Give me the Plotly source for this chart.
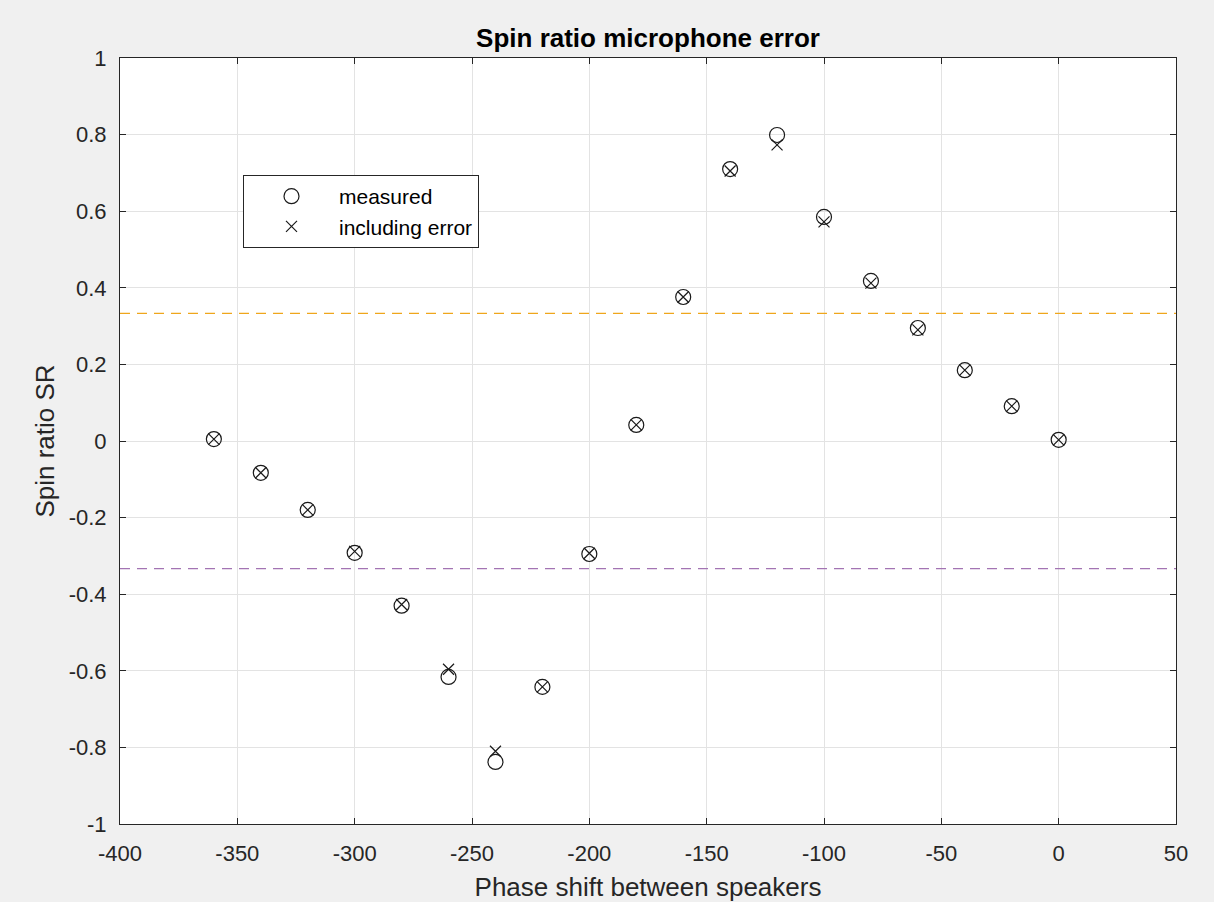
import plotly.graph_objects as go

phase = [-360, -340, -320, -300, -280, -260, -240, -220, -200, -180, -160,
         -140, -120, -100, -80, -60, -40, -20, 0]
measured = [0.005, -0.083, -0.180, -0.292, -0.430, -0.616, -0.838, -0.642, -0.295,
            0.042, 0.376, 0.710, 0.799, 0.585, 0.418, 0.295, 0.185, 0.091, 0.003]
including_error = [0.005, -0.083, -0.180, -0.288, -0.427, -0.596, -0.810, -0.642, -0.293,
                   0.042, 0.376, 0.705, 0.773, 0.572, 0.412, 0.290, 0.185, 0.091, 0.003]
upper_limit = 1 / 3
lower_limit = -1 / 3
x_range = [-400, 50]
y_range = [-1, 1]
x_tickvals = [-400, -350, -300, -250, -200, -150, -100, -50, 0, 50]
x_ticktext = ["-400", "-350", "-300", "-250", "-200", "-150", "-100", "-50", "0", "50"]
y_tickvals = [-1, -0.8, -0.6, -0.4, -0.2, 0, 0.2, 0.4, 0.6, 0.8, 1]
y_ticktext = ["-1", "-0.8", "-0.6", "-0.4", "-0.2", "0", "0.2", "0.4", "0.6", "0.8", "1"]

font = "Liberation Sans, Arial, sans-serif"
txt = "#262626"

fig = go.Figure()
fig.add_trace(go.Scatter(
    x=phase, y=measured, mode="markers", name="measured",
    marker=dict(symbol="circle-open", size=15, color="#1a1a1a", line=dict(width=1.2))))
fig.add_trace(go.Scatter(
    x=phase, y=including_error, mode="markers", name="including error",
    marker=dict(symbol="x-thin-open", size=11, color="#1a1a1a", line=dict(width=1.2, color="#1a1a1a"))))

fig.add_shape(type="line", xref="paper", x0=0, x1=1, yref="y", y0=upper_limit, y1=upper_limit,
              line=dict(color="#EFA61C", width=1.3, dash="10px,7px"))
fig.add_shape(type="line", xref="paper", x0=0, x1=1, yref="y", y0=lower_limit, y1=lower_limit,
              line=dict(color="#A374B3", width=1.3, dash="10px,7px"))

axis_common = dict(
    showgrid=True, gridcolor="#e3e3e3", gridwidth=1,
    showline=True, linecolor="#262626", linewidth=1, mirror="ticks",
    ticks="inside", ticklen=6, tickcolor="#262626",
    tickfont=dict(family=font, size=22, color=txt),
    zeroline=False, automargin=False,
)

fig.update_layout(
    width=1214, height=902,
    margin=dict(l=120, r=38, t=58, b=78),
    paper_bgcolor="#f0f0f0", plot_bgcolor="#ffffff",
    title=dict(text="<b>Spin ratio microphone error</b>", x=(120 + 1176) / 2 / 1214, xanchor="center",
               y=1 - 38 / 902, yanchor="middle", yref="container",
               font=dict(family=font, size=26, color="#000000")),
    xaxis=dict(range=x_range, tickmode="array", tickvals=x_tickvals, ticktext=x_ticktext,
               ticklabelstandoff=10,
               title=dict(text="Phase shift between speakers", font=dict(family=font, size=26, color=txt),
                          standoff=12),
               **axis_common),
    yaxis=dict(range=y_range, tickmode="array", tickvals=y_tickvals, ticktext=y_ticktext,
               ticklabelstandoff=8,
               title=dict(text="Spin ratio SR", font=dict(family=font, size=26, color=txt), standoff=6),
               **axis_common),
    showlegend=True,
    legend=dict(x=(243 - 120) / 1056, y=(824 - 175) / 766, xanchor="left", yanchor="top",
                bgcolor="#ffffff", bordercolor="#262626", borderwidth=1,
                font=dict(family=font, size=21, color="#000000"),
                itemwidth=85, tracegroupgap=0),
)

fig.write_html("out.html")
